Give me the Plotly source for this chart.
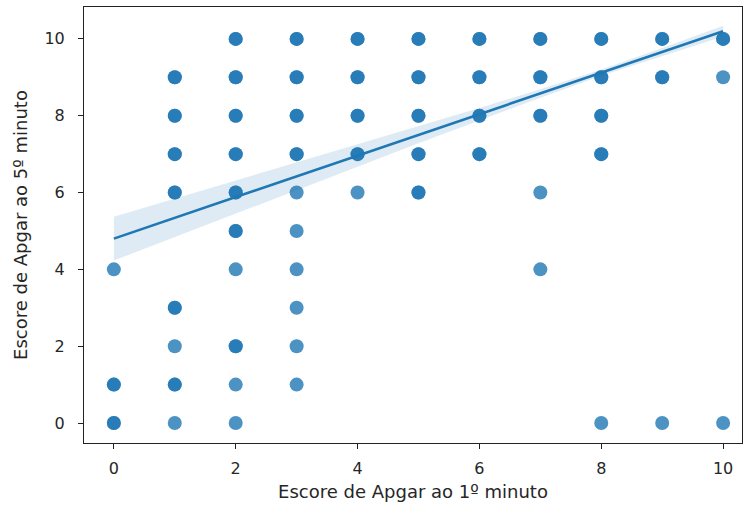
import plotly.graph_objects as go

# Data: (x = Apgar 1st minute, y = Apgar 5th minute, overlap count estimate)
apgar1 = [0, 0, 0,
          1, 1, 1, 1, 1, 1, 1, 1,
          2, 2, 2, 2, 2, 2, 2, 2, 2, 2,
          3, 3, 3, 3, 3, 3, 3, 3, 3, 3,
          4, 4, 4, 4, 4,
          5, 5, 5, 5, 5,
          6, 6, 6, 6,
          7, 7, 7, 7, 7,
          8, 8, 8, 8, 8,
          9, 9, 9,
          10, 10, 10]
apgar5 = [4, 1, 0,
          9, 8, 7, 6, 3, 2, 1, 0,
          10, 9, 8, 7, 6, 5, 4, 2, 1, 0,
          10, 9, 8, 7, 6, 5, 4, 3, 2, 1,
          10, 9, 8, 7, 6,
          10, 9, 8, 7, 6,
          10, 9, 8, 7,
          10, 9, 8, 6, 4,
          10, 9, 8, 7, 0,
          10, 9, 0,
          10, 9, 0]
counts = [1, 2, 2,
          2, 2, 2, 2, 2, 1, 2, 1,
          2, 2, 2, 2, 2, 2, 1, 2, 1, 1,
          2, 2, 2, 2, 1, 1, 1, 1, 1, 1,
          2, 2, 2, 2, 1,
          2, 2, 2, 2, 2,
          2, 2, 2, 2,
          2, 2, 2, 1, 1,
          2, 2, 2, 2, 1,
          2, 2, 1,
          2, 1, 1]

# Regression fit
fit_intercept = 4.8
fit_slope = 0.54
ci_x = [0, 1, 2, 3, 4, 5, 6, 7, 8, 9, 10]
ci_half = [0.57, 0.50, 0.43, 0.36, 0.29, 0.22, 0.16, 0.11, 0.08, 0.10, 0.14]

blue = "#1f77b4"
text_color = "#262626"
font_family = "DejaVu Sans"

xs, ys = [], []
for x, y, c in zip(apgar1, apgar5, counts):
    for _ in range(c):
        xs.append(x)
        ys.append(y)

fig = go.Figure()
fig.add_trace(go.Scatter(
    x=xs, y=ys, mode="markers",
    marker=dict(color="rgba(31,119,180,0.8)", size=14, line=dict(width=0)),
    showlegend=False, hoverinfo="x+y"))

fit_y = [fit_intercept + fit_slope * x for x in ci_x]
upper = [f + h for f, h in zip(fit_y, ci_half)]
lower = [f - h for f, h in zip(fit_y, ci_half)]
fig.add_trace(go.Scatter(
    x=ci_x + ci_x[::-1], y=upper + lower[::-1], fill="toself",
    fillcolor="rgba(31,119,180,0.15)", line=dict(width=0),
    mode="lines", showlegend=False, hoverinfo="skip"))
fig.add_trace(go.Scatter(
    x=ci_x, y=fit_y, mode="lines", line=dict(color=blue, width=2.6),
    showlegend=False))

axis_common = dict(
    showline=True, linecolor="#222", linewidth=1, mirror=True,
    ticks="outside", ticklen=5, tickwidth=1, tickcolor="#222",
    showgrid=False, zeroline=False,
    tickfont=dict(family=font_family, size=16, color=text_color),
)
fig.update_xaxes(range=[-0.49, 10.31], tickvals=[0, 2, 4, 6, 8, 10],
                 ticklabelstandoff=6,
                 title=dict(text="Escore de Apgar ao 1º minuto",
                            font=dict(family=font_family, size=18, color=text_color),
                            standoff=8),
                 **axis_common)
fig.update_yaxes(range=[-0.52, 10.83], tickvals=[0, 2, 4, 6, 8, 10],
                 ticklabelstandoff=10,
                 title=dict(text="Escore de Apgar ao 5º minuto",
                            font=dict(family=font_family, size=18, color=text_color),
                            standoff=12),
                 **axis_common)
fig.update_layout(
    width=744, height=507,
    margin=dict(l=84, r=2, t=7, b=64),
    paper_bgcolor="white", plot_bgcolor="white",
)
fig.write_html("out.html")
